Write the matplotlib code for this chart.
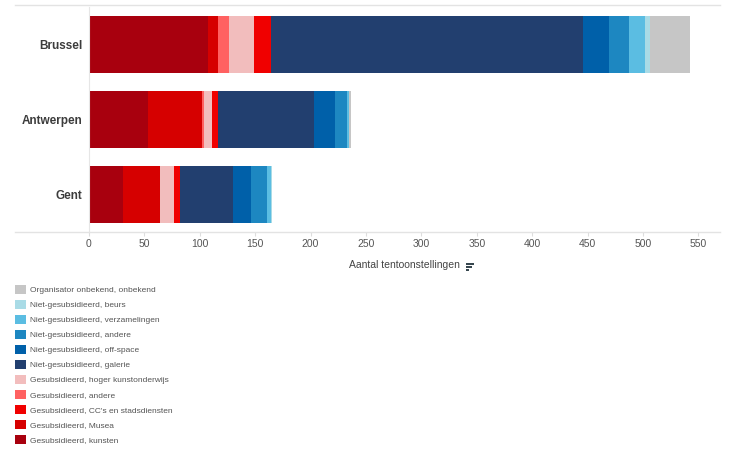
import numpy as np
import matplotlib
matplotlib.use("Agg")
import matplotlib.pyplot as plt
from matplotlib.patches import Patch, Rectangle
from matplotlib.lines import Line2D

plt.rcParams['font.family'] = ['Liberation Sans', 'DejaVu Sans']

cities = ["Brussel", "Antwerpen", "Gent"]

# stack order as drawn in the bars (left to right)
categories = [
    "Gesubsidieerd, kunsten",
    "Gesubsidieerd, Musea",
    "Gesubsidieerd, andere",
    "Gesubsidieerd, hoger kunstonderwijs",
    "Gesubsidieerd, CC's en stadsdiensten",
    "Niet-gesubsidieerd, galerie",
    "Niet-gesubsidieerd, off-space",
    "Niet-gesubsidieerd, andere",
    "Niet-gesubsidieerd, verzamelingen",
    "Niet-gesubsidieerd, beurs",
    "Organisator onbekend, onbekend",
]
colors = ["#a8000e", "#d60000", "#ff6161", "#f2bdbd", "#f00000",
          "#223f6f", "#0060a9", "#1d87c1", "#5bbde2", "#a9dbe6", "#c6c6c6"]

brussel = [107, 9, 10, 23, 15, 282, 23, 18, 15, 4, 36]
antwerpen = [53, 49, 1.5, 7.5, 5, 87, 19, 10.5, 2, 0.5, 1.5]
gent = [31, 33, 0.5, 12.5, 5, 48, 16, 14.5, 3.5, 1.5, 0]
values = np.array([brussel, antwerpen, gent])

# legend order (top to bottom)
legend_order = [10, 9, 8, 7, 6, 5, 3, 2, 4, 1, 0]

fig = plt.figure(figsize=(7.34, 4.53), dpi=100)
ax = fig.add_axes([89 / 734, 1 - 232 / 453, (720 - 89) / 734, 225 / 453])

y = np.arange(len(cities))
left = np.zeros(len(cities))
for j, cat in enumerate(categories):
    ax.barh(y, values[:, j], left=left, height=0.75, color=colors[j],
            edgecolor="none", label=cat)
    left += values[:, j]

ax.set_xlim(0, 569.5)
ax.set_ylim(2.5, -0.5)
ax.set_xticks(np.arange(0, 551, 50))
ax.set_yticks(y)
ax.set_yticklabels(cities, fontsize=8.5, fontweight="bold", color="#3c3c3c")
ax.tick_params(axis="x", labelsize=7.5, labelcolor="#555555", color="#dddddd",
               length=3, pad=2)
ax.tick_params(axis="y", length=0, pad=5)
for s in ["top", "right", "bottom"]:
    ax.spines[s].set_visible(False)
ax.spines["left"].set_color("#e6e6e6")
ax.set_xlabel("Aantal tentoonstellingen", fontsize=7.5, color="#444444", labelpad=8)

# outer frame lines
for yy in [5, 232]:
    fig.add_artist(Line2D([15 / 734, 720 / 734], [1 - yy / 453, 1 - yy / 453],
                          color="#e3e3e3", lw=1))

# small sort icon next to the axis title
for k, w in enumerate([8, 6, 3]):
    fig.add_artist(Rectangle((466 / 734, 1 - (263 + 3 * k + 2) / 453), w / 734, 2 / 453,
                             facecolor="#37474f", edgecolor="none"))

handles = [Patch(facecolor=colors[i], edgecolor="none") for i in legend_order]
labels = [categories[i] for i in legend_order]
fig.legend(handles, labels, loc="upper left", bbox_to_anchor=(15 / 734, 1 - 285 / 453),
           frameon=False, fontsize=6, handlelength=1.3, handleheight=1.3,
           labelspacing=0.68, handletextpad=0.5, borderpad=0, borderaxespad=0,
           labelcolor="#555555")

fig.savefig("out.png", dpi=100)
